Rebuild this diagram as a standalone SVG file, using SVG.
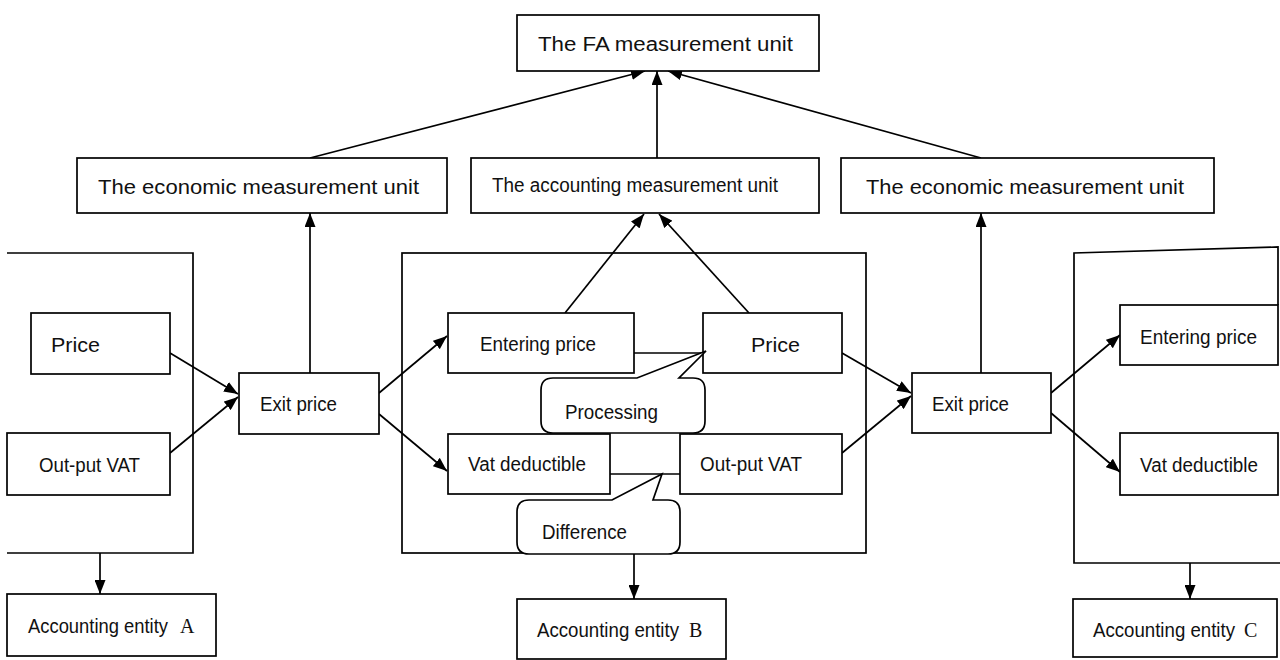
<svg xmlns="http://www.w3.org/2000/svg" width="1280" height="660" viewBox="0 0 1280 660">
<defs>
<marker id="ah" viewBox="0 0 14 11" refX="14" refY="5.5" markerWidth="14" markerHeight="11" markerUnits="userSpaceOnUse" orient="auto">
<path d="M0,0 L14,5.5 L0,11 Z" fill="#000"/>
</marker>
<style>
.box{fill:#fff;stroke:#000;stroke-width:1.7}
.frame{fill:none;stroke:#000;stroke-width:1.7}
.ln{fill:none;stroke:#000;stroke-width:1.7}
.ar{fill:none;stroke:#000;stroke-width:1.7;marker-end:url(#ah)}
.t{font-family:"Liberation Sans",Arial,sans-serif;fill:#111;font-size:20px}
.s{font-family:"Liberation Serif","Times New Roman",serif;fill:#111;font-size:20px}
.co{fill:#fff;stroke:#000;stroke-width:1.7}
</style>
</defs>
<rect width="1280" height="660" fill="#fff"/>

<g id="frames">
<path class="frame" d="M7,253 L193,253 L193,553 L7,553"/>
<rect class="frame" x="402" y="253" width="464" height="300"/>
<path class="frame" d="M1280,563 L1074,563 L1074,253 L1278,247 L1278,305"/>
</g>

<g id="connectors">
<path class="ar" d="M310,158 L645,71"/>
<path class="ar" d="M657,158 L657,71"/>
<path class="ar" d="M981,158 L668,71"/>
<path class="ar" d="M310,373 L310,213"/>
<path class="ar" d="M981,373 L981,213"/>
<path class="ar" d="M565,313 L644,214"/>
<path class="ar" d="M749,313 L659,214"/>
<path class="ar" d="M170,353 L238,394"/>
<path class="ar" d="M170,453 L238,397"/>
<path class="ar" d="M379,393 L447,336"/>
<path class="ar" d="M379,414 L447,471"/>
<path class="ar" d="M842,353 L911,393"/>
<path class="ar" d="M842,453 L911,396"/>
<path class="ar" d="M1051,393 L1120,335"/>
<path class="ar" d="M1051,413 L1120,472"/>
<path class="ar" d="M100,553 L100,594"/>
<path class="ar" d="M634,553 L634,599"/>
<path class="ar" d="M1190,563 L1190,599"/>
<path class="ln" d="M634,353 L704,353"/>
<path class="ln" d="M610,474 L680,474"/>
</g>

<g id="fa"><rect class="box" x="517" y="15" width="302" height="56"/><text class="t" x="538" y="51" font-size="22" textLength="255" lengthAdjust="spacingAndGlyphs">The FA measurement unit</text></g>
<g id="econ-left"><rect class="box" x="77" y="158" width="370" height="55"/><text class="t" x="98" y="194" font-size="22" textLength="321" lengthAdjust="spacingAndGlyphs">The economic measurement unit</text></g>
<g id="acct"><rect class="box" x="471" y="158" width="348" height="55"/><text class="t" x="492" y="192" font-size="19" textLength="286" lengthAdjust="spacingAndGlyphs">The accounting measurement unit</text></g>
<g id="econ-right"><rect class="box" x="841" y="158" width="373" height="55"/><text class="t" x="866" y="194" font-size="22" textLength="318" lengthAdjust="spacingAndGlyphs">The economic measurement unit</text></g>

<g id="price-a"><rect class="box" x="31" y="313" width="139" height="61"/><text class="t" x="51" y="352" font-size="21" textLength="49" lengthAdjust="spacingAndGlyphs">Price</text></g>
<g id="vat-a"><rect class="box" x="7" y="433" width="163" height="62"/><text class="t" x="39" y="472" font-size="19" textLength="101" lengthAdjust="spacingAndGlyphs">Out-put VAT</text></g>
<g id="exit-a"><rect class="box" x="239" y="373" width="140" height="61"/><text class="t" x="260" y="411" font-size="20" textLength="77" lengthAdjust="spacingAndGlyphs">Exit price</text></g>
<g id="entity-a"><rect class="box" x="7" y="594" width="209" height="62"/><text class="t" x="28" y="633" font-size="19" textLength="140" lengthAdjust="spacingAndGlyphs">Accounting entity</text><text class="s" x="180" y="633">A</text></g>

<g id="enter-b"><rect class="box" x="448" y="313" width="186" height="60"/><text class="t" x="480" y="351" font-size="20" textLength="116" lengthAdjust="spacingAndGlyphs">Entering price</text></g>
<g id="price-b"><rect class="box" x="703" y="313" width="139" height="60"/><text class="t" x="751" y="352" font-size="21" textLength="49" lengthAdjust="spacingAndGlyphs">Price</text></g>
<g id="vatded-b"><rect class="box" x="448" y="434" width="162" height="60"/><text class="t" x="468" y="471" font-size="20" textLength="118" lengthAdjust="spacingAndGlyphs">Vat deductible</text></g>
<g id="vat-b"><rect class="box" x="680" y="434" width="162" height="60"/><text class="t" x="700" y="471" font-size="19" textLength="102" lengthAdjust="spacingAndGlyphs">Out-put VAT</text></g>
<g id="processing"><path class="co" d="M553,378 L637,378 L706,351 L679,378 L693,378 Q705,378 705,390 L705,421 Q705,433 693,433 L553,433 Q541,433 541,421 L541,390 Q541,378 553,378 Z"/><text class="t" x="565" y="419" font-size="20" fill="#333" textLength="93" lengthAdjust="spacingAndGlyphs">Processing</text></g>
<g id="difference"><path class="co" d="M529,500 L612,500 L662,474 L653,500 L668,500 Q680,500 680,512 L680,542 Q680,554 668,554 L529,554 Q517,554 517,542 L517,512 Q517,500 529,500 Z"/><text class="t" x="542" y="539" font-size="20" fill="#333" textLength="85" lengthAdjust="spacingAndGlyphs">Difference</text></g>
<g id="exit-b"><rect class="box" x="912" y="373" width="139" height="60"/><text class="t" x="932" y="411" font-size="20" textLength="77" lengthAdjust="spacingAndGlyphs">Exit price</text></g>
<g id="entity-b"><rect class="box" x="517" y="599" width="209" height="60"/><text class="t" x="537" y="637" font-size="19" textLength="142" lengthAdjust="spacingAndGlyphs">Accounting entity</text><text class="s" x="689" y="637">B</text></g>

<g id="enter-c"><rect class="box" x="1120" y="305" width="158" height="60"/><text class="t" x="1140" y="344" font-size="20" textLength="117" lengthAdjust="spacingAndGlyphs">Entering price</text></g>
<g id="vatded-c"><rect class="box" x="1120" y="433" width="158" height="62"/><text class="t" x="1140" y="472" font-size="20" textLength="118" lengthAdjust="spacingAndGlyphs">Vat deductible</text></g>
<g id="entity-c"><rect class="box" x="1073" y="599" width="204" height="58"/><text class="t" x="1093" y="637" font-size="19" textLength="142" lengthAdjust="spacingAndGlyphs">Accounting entity</text><text class="s" x="1244" y="637">C</text></g>
</svg>
